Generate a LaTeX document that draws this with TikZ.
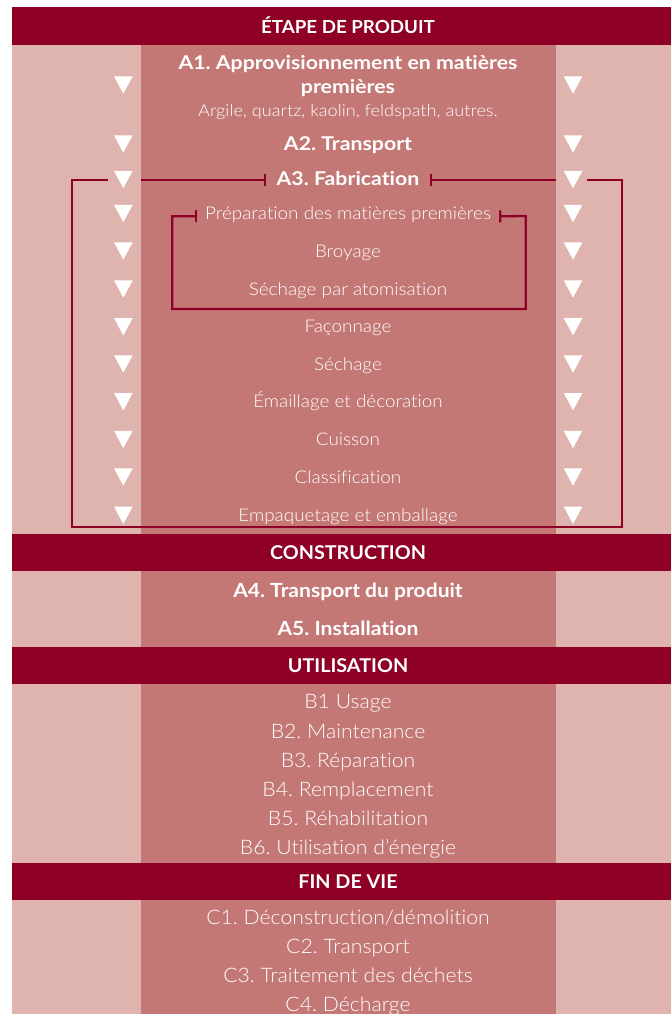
\documentclass[tikz,border=0pt]{standalone}
\usepackage{fontspec}
\usetikzlibrary{arrows.meta}
\setmainfont{Lato}
\newfontfamily\hdrfont{Lato Bold}[FakeStretch=1.04,Ligatures=NoCommon]
\newfontfamily\boldA{Lato Bold}[FakeStretch=1.12,Ligatures=NoCommon]
\newfontfamily\boldB{Lato Bold}[FakeStretch=1.08,Ligatures=NoCommon]
\newfontfamily\lightA{Lato Light}[FakeStretch=1.08,Ligatures=NoCommon]
\newfontfamily\lightS{Lato Light}[FakeStretch=1.10,Ligatures=NoCommon]
\newfontfamily\lightB{Lato Light}[FakeStretch=1.06,Ligatures=NoCommon]
\definecolor{hdrred}{HTML}{8E0025}
\definecolor{pinklight}{HTML}{E0B4AE}
\definecolor{pinkmid}{HTML}{C47876}
\tikzset{barend/.tip={Bar[width=12pt,line width=2.3pt]}}
\frenchspacing
\begin{document}
\frenchspacing
\begin{tikzpicture}[x=1pt,y=-1pt,
  txt/.style={text=white,inner sep=0pt,text depth=0pt,anchor=center},
  hdrtext/.style={txt,text height=13.6pt,font=\hdrfont\fontsize{19}{21}\selectfont},
  boldtext/.style={txt,text height=13.6pt,font=\boldA\fontsize{19}{21}\selectfont},
  bigbold/.style={txt,text height=14pt,font=\boldB\fontsize{19.5}{22}\selectfont},
  lighttext/.style={txt,text height=12.5pt,font=\lightA\fontsize{17.5}{20}\selectfont},
  smalllight/.style={txt,text height=11.8pt,font=\lightS\fontsize{16.5}{18}\selectfont},
  biglight/.style={txt,text height=14.3pt,font=\lightB\fontsize{20}{22}\selectfont},
  brk/.style={draw=hdrred,line width=2.3pt},
]
\useasboundingbox (0,0) rectangle (671,1014);
\fill[white] (0,0) rectangle (671,1014);
% bands
\fill[pinklight] (11.5,45) rectangle (671,1014);
\fill[pinkmid] (140.5,45) rectangle (555.5,1014);
\fill[hdrred] (11.5,7.5) rectangle (671,45);
\fill[hdrred] (11.5,534) rectangle (671,571);
\fill[hdrred] (11.5,647) rectangle (671,684);
\fill[hdrred] (11.5,863) rectangle (671,900);

% headers
\node[hdrtext,font=\hdrfont\fontsize{18}{21}\selectfont] (h1) at (348,26.5) {ÉTAPE DE PRODUIT};
\node[hdrtext] (h2) at (348,552.5) {CONSTRUCTION};
\node[hdrtext] (h3) at (348,665.5) {UTILISATION};
\node[hdrtext] (h4) at (348,881.5) {FIN DE VIE};

% product stage
\node[boldtext] (a1a) at (348,62.5) {A1. Approvisionnement en matières};
\node[boldtext] (a1b) at (348,87) {premières};
\node[smalllight] (a1c) at (348,111) {Argile, quartz, kaolin, feldspath, autres.};
\node[boldtext] (a2) at (348,143.5) {A2. Transport};
\node[boldtext] (a3) at (348,179) {A3. Fabrication};
\node[lighttext] (p1) at (348,213.3) {Préparation des matières premières};
\node[lighttext] (p2) at (348,251) {Broyage};
\node[lighttext] (p3) at (348,289) {Séchage par atomisation};
\node[lighttext] (p4) at (348,326.7) {Façonnage};
\node[lighttext] (p5) at (348,364) {Séchage};
\node[lighttext] (p6) at (348,401.7) {Émaillage et décoration};
\node[lighttext] (p7) at (348,439.5) {Cuisson};
\node[lighttext] (p8) at (348,477) {Classification};
\node[lighttext] (p9) at (348,515.3) {Empaquetage et emballage};

% construction
\node[bigbold] (a4) at (348,590.5) {A4. Transport du produit};
\node[bigbold] (a5) at (348,628.5) {A5. Installation};

% use
\node[biglight] (b1) at (348,701) {B1 Usage};
\node[biglight] (b2) at (348,731) {B2. Maintenance};
\node[biglight] (b3) at (348,760) {B3. Réparation};
\node[biglight] (b4) at (348,789) {B4. Remplacement};
\node[biglight] (b5) at (348,818) {B5. Réhabilitation};
\node[biglight] (b6) at (348,847) {B6. Utilisation d’énergie};

% end of life
\node[biglight] (c1) at (348,917) {C1. Déconstruction/démolition};
\node[biglight] (c2) at (348,946.3) {C2. Transport};
\node[biglight] (c3) at (348,975.5) {C3. Traitement des déchets};
\node[biglight] (c4) at (348,1004.5) {C4. Décharge};

% outer bracket (A3)
\coordinate (oTL) at (107.7,180);
\coordinate (oTR) at (587,180);
\coordinate (oBL) at (72.3,527);
\coordinate (oBR) at (622.3,527);
\coordinate (cL) at (140.5,180);
\coordinate (cR) at (555.5,180);
\draw[brk,-{barend}] (cL) -- ([xshift=-10pt,yshift=-1pt]a3.west);
\draw[brk,{barend}-] ([xshift=10pt,yshift=-1pt]a3.east) -- (cR);
\draw[brk] (oTL) -| (oBL) -- (oBR) |- (oTR);

% inner bracket (raw material preparation)
\coordinate (iBL) at (172.3,309);
\coordinate (iTR) at (525.7,216);
\draw[brk,{barend}-{barend}] ([xshift=-8pt,yshift=-3pt]p1.west) -| (iBL) -| (iTR) -- ([xshift=8pt,yshift=-3pt]p1.east);

% arrows
\foreach \yy in {85,144,179.5,213.5,251,289,326.7,364,401.7,439.5,477,515.3}{
  \fill[white] (114,{\yy-8.7}) -- (132.7,{\yy-8.7}) -- (123.3,{\yy+8.7}) -- cycle;
  \fill[white] (563.7,{\yy-8.7}) -- (582.4,{\yy-8.7}) -- (573,{\yy+8.7}) -- cycle;
}
\end{tikzpicture}
\end{document}
